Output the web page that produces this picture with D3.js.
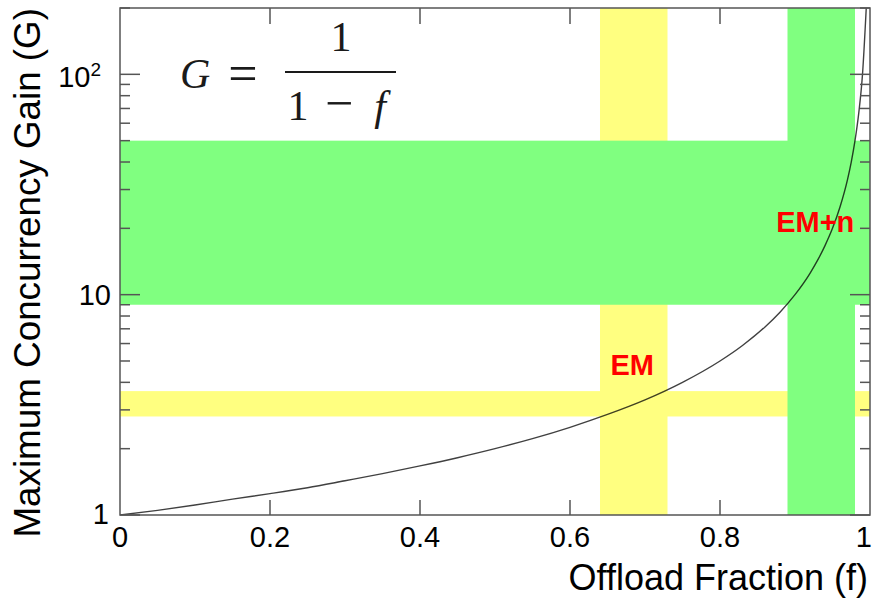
<!DOCTYPE html>
<html>
<head>
<meta charset="utf-8">
<script src="https://cdn.jsdelivr.net/npm/d3@7"></script>
<style>
  html, body { margin: 0; padding: 0; background: #fff; }
  svg { display: block; }
  text { font-family: "Liberation Sans", Arial, Helvetica, sans-serif; }
  text.serif { font-family: "Liberation Serif", "DejaVu Serif", serif; }
</style>
</head>
<body>
<svg id="chart" width="873" height="599"></svg>
<script>
// ---- Data ----
const curveF = [0, 0.05, 0.1, 0.15, 0.2, 0.25, 0.3, 0.35, 0.4, 0.45, 0.5, 0.55, 0.6, 0.65, 0.7, 0.75, 0.8, 0.83, 0.86, 0.88, 0.9, 0.92, 0.93, 0.94, 0.95, 0.96, 0.97, 0.975, 0.98, 0.985, 0.99, 0.995];
const curveG = [1, 1.05, 1.11, 1.18, 1.25, 1.33, 1.43, 1.54, 1.67, 1.82, 2, 2.22, 2.5, 2.86, 3.33, 4, 5, 5.88, 7.14, 8.33, 10, 12.5, 14.3, 16.7, 20, 25, 33.3, 40, 50, 66.7, 100, 200];

const yellowBandF = [0.64, 0.73];   // vertical yellow band (Offload Fraction)
const yellowBandG = [2.8, 3.65];    // horizontal yellow band (Gain)
const greenBandF = [0.89, 0.98];    // vertical green band
const greenBandG = [9, 50];         // horizontal green band

const xTicks = [0, 0.2, 0.4, 0.6, 0.8, 1];
const xTickLabels = ["0", "0.2", "0.4", "0.6", "0.8", "1"];
const yMajorTicks = [1, 10, 100];
const yMinorTicks = [2,3,4,5,6,7,8,9,20,30,40,50,60,70,80,90,200];

const labels = [
  { text: "EM", f: 0.683, g: 4.3 },
  { text: "EM+n", f: 0.927, g: 19.2 }
];

// ---- Layout ----
const svg = d3.select("#chart");
const pL = 120, pR = 870, pT = 8, pB = 515;
const x = d3.scaleLinear().domain([0, 1]).range([pL, pR]);
const y = d3.scaleLog().domain([1, 200]).range([pB, pT]);

const plot = svg.append("g");

// bands: yellow first, green on top
const yellow = "#ffff80", green = "#80ff80";
plot.append("rect")
  .attr("x", x(yellowBandF[0])).attr("width", x(yellowBandF[1]) - x(yellowBandF[0]))
  .attr("y", pT).attr("height", pB - pT).attr("fill", yellow);
plot.append("rect")
  .attr("x", pL).attr("width", pR - pL)
  .attr("y", y(yellowBandG[1])).attr("height", y(yellowBandG[0]) - y(yellowBandG[1])).attr("fill", yellow);
plot.append("rect")
  .attr("x", pL).attr("width", pR - pL)
  .attr("y", y(greenBandG[1])).attr("height", y(greenBandG[0]) - y(greenBandG[1])).attr("fill", green);
plot.append("rect")
  .attr("x", x(greenBandF[0])).attr("width", x(greenBandF[1]) - x(greenBandF[0]))
  .attr("y", pT).attr("height", pB - pT).attr("fill", green);

// curve
const pts = curveF.map((f, i) => [f, curveG[i]]);
const line = d3.line().x(d => x(d[0])).y(d => y(d[1])).curve(d3.curveMonotoneX);
svg.append("defs").append("clipPath").attr("id", "clip")
  .append("rect").attr("x", pL).attr("y", pT).attr("width", pR - pL).attr("height", pB - pT);
plot.append("path").datum(pts)
  .attr("d", line).attr("fill", "none")
  .attr("stroke", "#000").attr("stroke-opacity", 0.75).attr("stroke-width", 1.4)
  .attr("clip-path", "url(#clip)");

// frame
const axisColor = "#555";
svg.append("rect").attr("x", pL).attr("y", pT).attr("width", pR - pL).attr("height", pB - pT)
  .attr("fill", "none").attr("stroke", axisColor).attr("stroke-width", 1.5);

// ticks
const tickG = svg.append("g").attr("stroke", axisColor).attr("stroke-width", 1.5);
xTicks.slice(1, -1).forEach(t => {
  tickG.append("line").attr("x1", x(t)).attr("x2", x(t)).attr("y1", pB).attr("y2", pB - 15);
  tickG.append("line").attr("x1", x(t)).attr("x2", x(t)).attr("y1", pT).attr("y2", pT + 16);
});
yMajorTicks.forEach(t => {
  tickG.append("line").attr("x1", pL).attr("x2", pL + 20).attr("y1", y(t)).attr("y2", y(t));
  tickG.append("line").attr("x1", pR).attr("x2", pR - 20).attr("y1", y(t)).attr("y2", y(t));
});
yMinorTicks.forEach(t => {
  tickG.append("line").attr("x1", pL).attr("x2", pL + 10).attr("y1", y(t)).attr("y2", y(t));
  tickG.append("line").attr("x1", pR).attr("x2", pR - 10).attr("y1", y(t)).attr("y2", y(t));
});

// tick labels
const tickFont = 29;
xTicks.forEach((t, i) => {
  const last = i === xTicks.length - 1;
  svg.append("text").attr("x", last ? 872 : x(t)).attr("y", 547)
    .attr("text-anchor", last ? "end" : "middle").attr("font-size", tickFont).attr("fill", "#000")
    .text(xTickLabels[i]);
});
svg.append("text").attr("x", 109).attr("y", 524).attr("text-anchor", "end")
  .attr("font-size", tickFont).text("1");
svg.append("text").attr("x", 111).attr("y", y(10) + 10).attr("text-anchor", "end")
  .attr("font-size", tickFont).text("10");
const t100 = svg.append("text").attr("x", 101).attr("y", y(100) + 13).attr("text-anchor", "end")
  .attr("font-size", tickFont);
t100.append("tspan").text("10");
t100.append("tspan").attr("font-size", 19).attr("dy", -11).text("2");

// axis titles
svg.append("text").attr("x", 868).attr("y", 590).attr("text-anchor", "end")
  .attr("font-size", 36).attr("fill", "#000").text("Offload Fraction (f)");
svg.append("text").attr("transform", "translate(40,8) rotate(-90)")
  .attr("text-anchor", "end").attr("font-size", 36.8).attr("fill", "#000")
  .text("Maximum Concurrency Gain (G)");

// formula
const fm = svg.append("g").attr("fill", "#1a1a1a");
fm.append("text").attr("class", "serif").attr("x", 180).attr("y", 88).attr("font-size", 42).attr("font-style", "italic").text("G");
fm.append("text").attr("class", "serif").attr("x", 243).attr("y", 91).attr("text-anchor", "middle").attr("font-size", 52).text("=");
fm.append("line").attr("x1", 285).attr("x2", 396).attr("y1", 72).attr("y2", 72)
  .attr("stroke", "#1a1a1a").attr("stroke-width", 2.2);
fm.append("text").attr("class", "serif").attr("x", 341).attr("y", 51).attr("text-anchor", "middle").attr("font-size", 42).text("1");
fm.append("text").attr("class", "serif").attr("x", 298).attr("y", 120).attr("text-anchor", "middle").attr("font-size", 42).text("1");
fm.append("text").attr("class", "serif").attr("x", 339).attr("y", 120).attr("text-anchor", "middle").attr("font-size", 50).text("\u2212");
fm.append("text").attr("class", "serif").attr("x", 380).attr("y", 120).attr("text-anchor", "middle").attr("font-size", 42).attr("font-style", "italic").text("f");

// region labels
labels.forEach(l => {
  svg.append("text").attr("x", x(l.f)).attr("y", y(l.g))
    .attr("text-anchor", "middle").attr("font-size", 29).attr("font-weight", "bold")
    .attr("fill", "#ff0000").text(l.text);
});
</script>
</body>
</html>
